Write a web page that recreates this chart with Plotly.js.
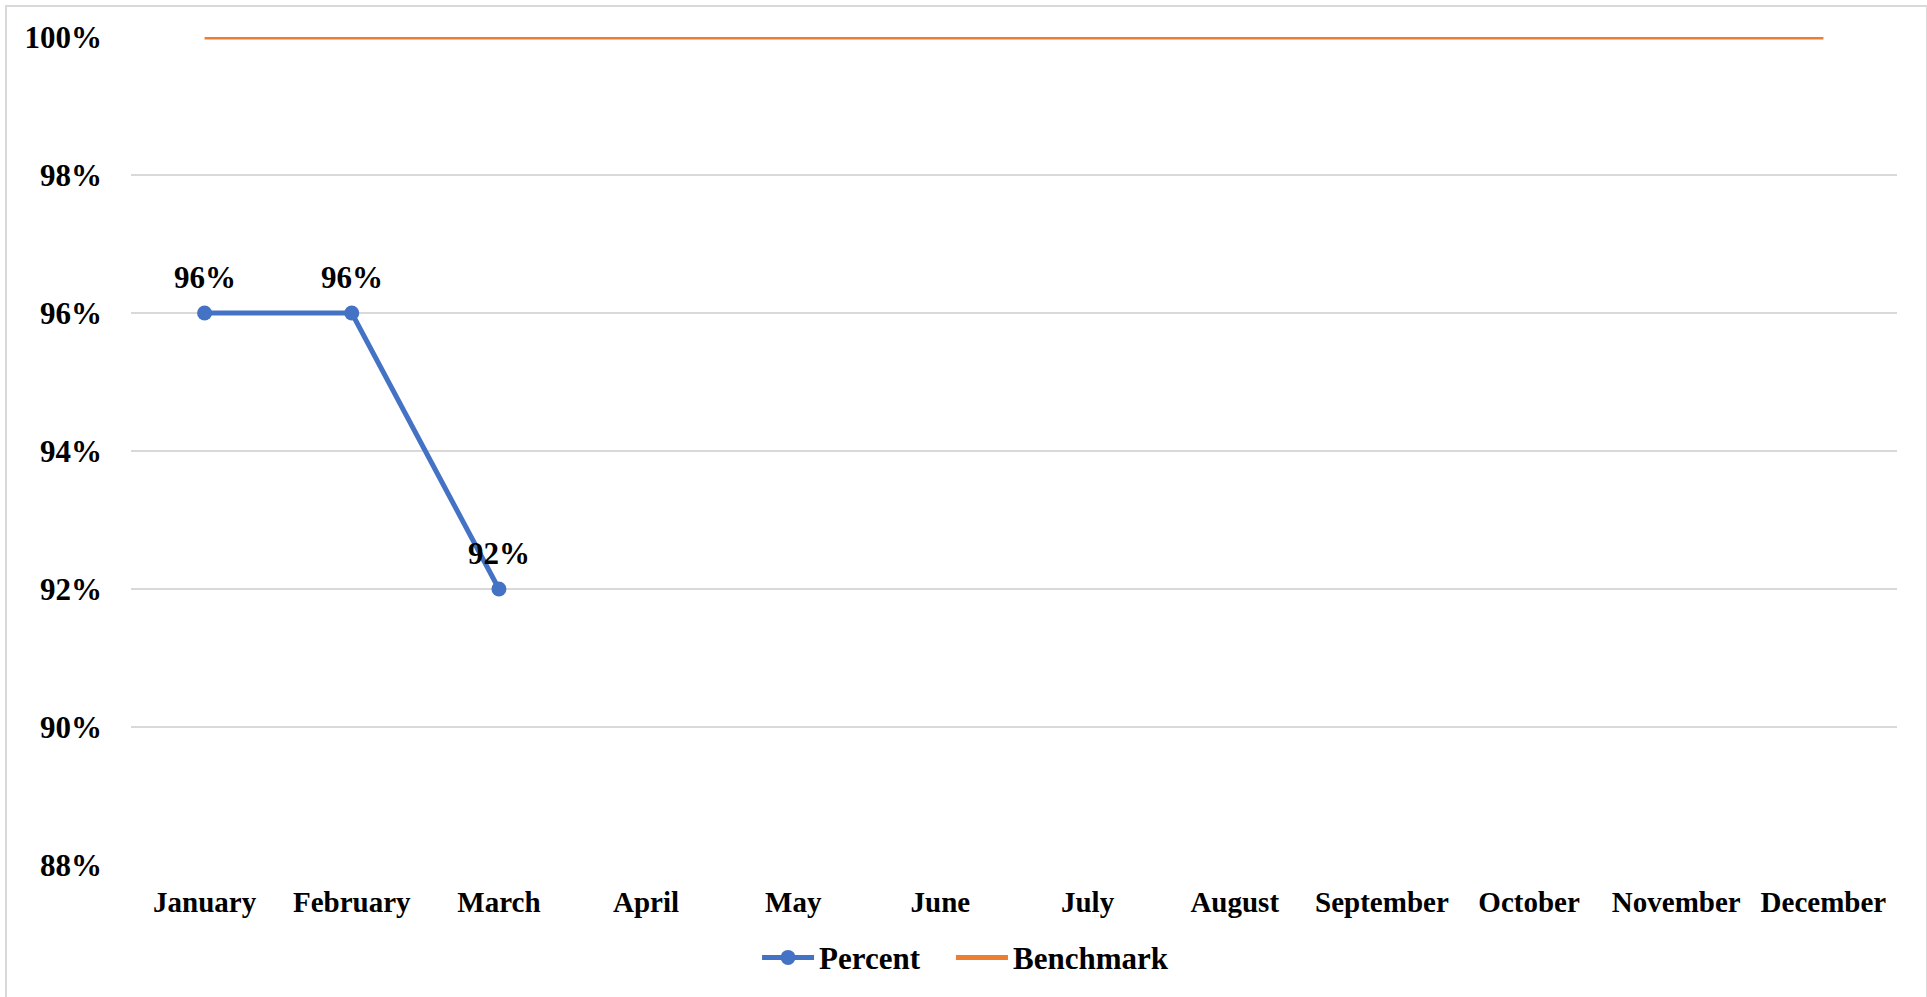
<!DOCTYPE html>
<html>
<head>
<meta charset="utf-8">
<script src="https://cdn.plot.ly/plotly-3.0.1.min.js"></script>
<style>
  html, body { margin: 0; padding: 0; background: #fff; }
  #wrap { position: relative; width: 1927px; height: 997px; overflow: hidden; }
  #chart { position: absolute; left: 0; top: 0; width: 1927px; height: 997px; }
  #frame { position: absolute; left: 5px; top: 5px; width: 1919px; height: 1000px; border: 2px solid #d9d9d9; pointer-events: none; }
</style>
</head>
<body>
<div id="wrap">
  <div id="chart"></div>
  <div id="frame"></div>
</div>
<script>
const months = ["January","February","March","April","May","June","July","August","September","October","November","December"];
const percentMonths = ["January","February","March"];
const percentValues = [0.96, 0.96, 0.92];
const benchmarkValues = [1,1,1,1,1,1,1,1,1,1,1,1];
const yTickValues = [0.88, 0.90, 0.92, 0.94, 0.96, 0.98, 1.00];
const yTickLabels = ["88%","90%","92%","94%","96%","98%","100%"];

const FONT = "Liberation Serif, Times New Roman, serif";
const baseFont = {family: FONT, size: 31, color: "#000000", weight: "bold"};

const traces = [
  {
    type: "scatter", mode: "lines+markers", name: "Percent",
    x: percentMonths, y: percentValues,
    line: {color: "#4472C4", width: 5},
    marker: {color: "#4472C4", size: 15},
    cliponaxis: false, legend: "legend"
  },
  {
    type: "scatter", mode: "lines", name: "Benchmark",
    x: months, y: benchmarkValues,
    line: {color: "#ED7D31", width: 5},
    cliponaxis: false, legend: "legend2"
  }
];

const annotations = percentMonths.map((m, i) => ({
  x: m, y: percentValues[i], xref: "x", yref: "y",
  text: Math.round(percentValues[i] * 100) + "%",
  showarrow: false, yshift: 36,
  font: {family: FONT, size: 31, color: "#000000", weight: "bold"}
}));

const legendFont = {family: FONT, size: 31, color: "#000000", weight: "bold"};

const layout = {
  width: 1927, height: 997,
  margin: {l: 131, r: 30, t: 37, b: 130},
  paper_bgcolor: "#ffffff", plot_bgcolor: "#ffffff",
  font: baseFont,
  showlegend: true,
  legend: {
    orientation: "h", x: 0.3545, xanchor: "left",
    y: -0.112, yanchor: "middle",
    font: legendFont, itemwidth: 52
  },
  legend2: {
    orientation: "h", x: 0.4643, xanchor: "left",
    y: -0.112, yanchor: "middle",
    font: legendFont, itemwidth: 52
  },
  xaxis: {
    type: "category", categoryorder: "array", categoryarray: months,
    range: [-0.5, 11.5],
    showgrid: false, zeroline: false, showline: false,
    ticks: "", ticklabelstandoff: 17,
    tickfont: {family: FONT, size: 29, color: "#000000", weight: "bold"},
    fixedrange: true
  },
  yaxis: {
    range: [0.88, 1.0],
    tickvals: yTickValues, ticktext: yTickLabels,
    showgrid: true, gridcolor: "#d9d9d9", gridwidth: 2,
    zeroline: false, showline: false, ticks: "",
    ticklabelstandoff: 28,
    tickfont: {family: FONT, size: 31, color: "#000000", weight: "bold"},
    fixedrange: true
  },
  annotations: annotations
};

Plotly.newPlot("chart", traces, layout, {displayModeBar: false, staticPlot: true});
</script>
</body>
</html>
